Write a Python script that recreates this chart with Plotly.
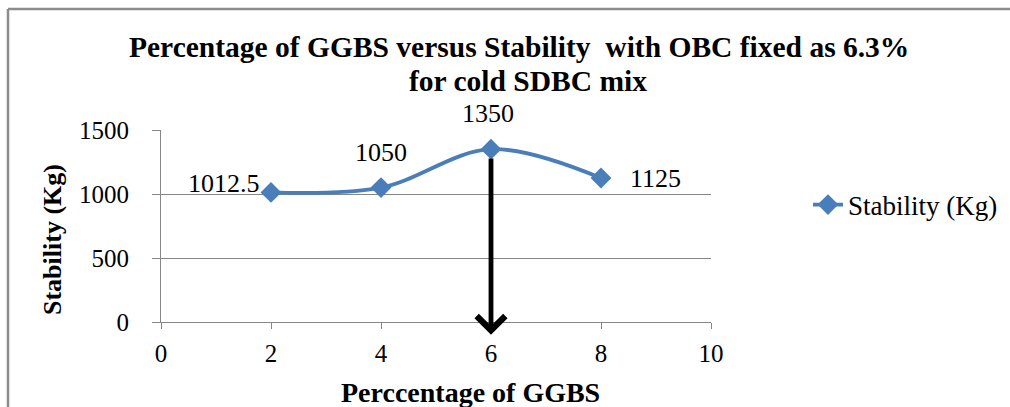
import plotly.graph_objects as go

# ---- data ----
ggbs_pct = [2, 4, 6, 8]
stability = [1012.5, 1050, 1350, 1125]
label_text = ["1012.5", "1050", "1350", "1125"]
series_name = "Stability (Kg)"
title_lines = ["Percentage of GGBS versus Stability  with OBC fixed as 6.3%", "for cold SDBC mix"]
x_title = "Perccentage of GGBS"
y_title = "Stability (Kg)"
x_ticks = [0, 2, 4, 6, 8, 10]
y_ticks = [0, 500, 1000, 1500]
arrow_x = 6
arrow_from_y = 1290
arrow_to_y = -100

# ---- styling ----
SERIF = "Liberation Serif, Times New Roman, serif"
BLUE = "#4A7EBB"
GRAY = "#868686"
label_style = [
    dict(xanchor="right", xshift=-9, yshift=9),
    dict(xanchor="center", xshift=0, yshift=35),
    dict(xanchor="center", xshift=-3, yshift=36),
    dict(xanchor="left", xshift=27, yshift=0),
]

W, H = 1010, 407
L, R, T, B = 161, 299, 130, 85
pw, ph = W - L - R, H - T - B

def px_to_paper_x(px):
    return (px - L) / pw

def px_to_paper_y(py):
    return (H - B - py) / ph

fig = go.Figure()
fig.add_trace(go.Scatter(
    x=ggbs_pct, y=stability, name=series_name,
    mode="lines+markers",
    line=dict(color=BLUE, width=3.8, shape="spline", smoothing=1.0),
    marker=dict(symbol="diamond", size=16, color=BLUE),
    cliponaxis=False,
))

annotations = []
for xv, yv, t, st in zip(ggbs_pct, stability, label_text, label_style):
    annotations.append(dict(x=xv, y=yv, xref="x", yref="y", text=t, showarrow=False,
                            yanchor="middle", font=dict(family=SERIF, size=26, color="black"), **st))

# title
annotations.append(dict(x=px_to_paper_x(519), y=px_to_paper_y(47), xref="paper", yref="paper",
                        text="<b>" + title_lines[0] + "</b>", showarrow=False, xanchor="center", yanchor="middle",
                        font=dict(family=SERIF, size=29.5, color="black")))
annotations.append(dict(x=px_to_paper_x(528), y=px_to_paper_y(81), xref="paper", yref="paper",
                        text="<b>" + title_lines[1] + "</b>", showarrow=False, xanchor="center", yanchor="middle",
                        font=dict(family=SERIF, size=29.5, color="black")))
# axis titles
annotations.append(dict(x=px_to_paper_x(470), y=px_to_paper_y(392), xref="paper", yref="paper",
                        text="<b>" + x_title + "</b>", showarrow=False, xanchor="center", yanchor="middle",
                        font=dict(family=SERIF, size=28, color="black")))
annotations.append(dict(x=px_to_paper_x(52), y=px_to_paper_y(240), xref="paper", yref="paper",
                        text="<b>" + y_title + "</b>", showarrow=False, xanchor="center", yanchor="middle",
                        textangle=-90, font=dict(family=SERIF, size=26, color="black")))
# arrow
annotations.append(dict(x=arrow_x, y=arrow_to_y, ax=arrow_x, ay=arrow_from_y, xref="x", yref="y",
                        axref="x", ayref="y", text="", showarrow=True, arrowhead=4,
                        arrowwidth=4.8, arrowsize=1.15, arrowcolor="black"))

frame_line = dict(color="#8c8c8c", width=2.5)
fig.update_layout(
    width=W, height=H,
    margin=dict(l=L, r=R, t=T, b=B, autoexpand=False),
    paper_bgcolor="white", plot_bgcolor="white",
    showlegend=True,
    legend=dict(x=px_to_paper_x(808), y=px_to_paper_y(205), xanchor="left", yanchor="middle",
                font=dict(family=SERIF, size=27, color="black"), bgcolor="rgba(0,0,0,0)"),
    xaxis=dict(range=[0, 10], tickvals=x_ticks, showgrid=False, zeroline=False,
               showline=True, linecolor=GRAY, linewidth=1,
               ticks="outside", ticklen=6, tickcolor=GRAY, ticklabelstandoff=3,
               tickfont=dict(family=SERIF, size=25, color="black")),
    yaxis=dict(range=[0, 1500], tickvals=y_ticks, showgrid=True, gridcolor=GRAY, gridwidth=1,
               zeroline=False, showline=True, linecolor=GRAY, linewidth=1,
               ticks="outside", ticklen=8, tickcolor=GRAY, ticklabelstandoff=18,
               tickfont=dict(family=SERIF, size=25, color="black")),
    annotations=annotations,
    shapes=[
        dict(type="line", xref="paper", yref="paper",
             x0=px_to_paper_x(8), x1=px_to_paper_x(1010),
             y0=px_to_paper_y(9), y1=px_to_paper_y(9), line=frame_line, layer="below"),
        dict(type="line", xref="paper", yref="paper",
             x0=px_to_paper_x(8), x1=px_to_paper_x(8),
             y0=px_to_paper_y(9), y1=px_to_paper_y(407), line=frame_line, layer="below"),
    ],
)

fig.write_html("out.html", config={"displayModeBar": False})
